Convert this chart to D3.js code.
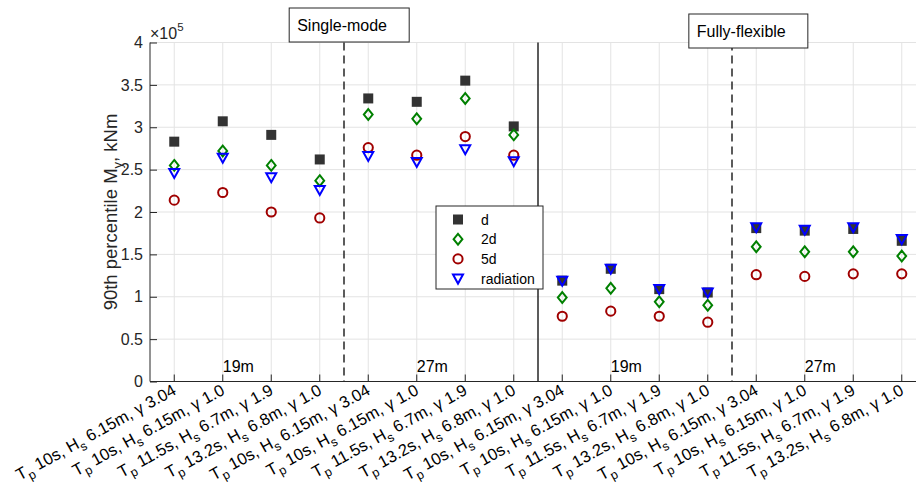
<!DOCTYPE html>
<html>
<head>
<meta charset="utf-8">
<script src="https://cdn.jsdelivr.net/npm/d3@7"></script>
<style>
body { margin: 0; background: #fff; }
text { font-family: "Liberation Sans", Arial, Helvetica, sans-serif; }
</style>
</head>
<body>
<div id="graph"></div>
<script>
//measurements
var width = 916;
var height = 482;
var margin = { top: 42.5, left: 150, bottom: 100.5 };

//sea states, repeated for each group of four
var waveTp = ["10s", "10s", "11.5s", "13.2s"];
var waveHs = ["6.15m", "6.15m", "6.7m", "6.8m"];
var waveGamma = ["3.04", "1.0", "1.9", "1.0"];
var caseIds = d3.range(1, 17);

//90th percentile My, kNm
var seriesNames = ["d", "2d", "5d", "radiation"];
var valD   = [283000, 307000, 291000, 262000, 334000, 330000, 355000, 301000, 119000, 133000, 109000, 105000, 181000, 178000, 180000, 166000];
var val2d  = [255000, 272000, 255000, 237000, 315000, 310000, 334000, 291000,  99000, 110000,  94000,  90000, 159000, 153000, 153000, 148000];
var val5d  = [214000, 223000, 200000, 193000, 276000, 267000, 289000, 267000,  77000,  83000,  77000,  70000, 126000, 124000, 127000, 127000];
var valRad = [246000, 264000, 241000, 226000, 266000, 259000, 274000, 260000, 119000, 133000, 109000, 105000, 182000, 179000, 182000, 168000];

//axis ticks
var yTicks = [0, 50000, 100000, 150000, 200000, 250000, 300000, 350000, 400000];

//groups
var depthLabels = ["19m", "27m", "19m", "27m"];
var depthAt = [2, 6, 10, 14];
var dashedAt = [4.5, 12.5];
var solidAt = [8.5];
var modeLabels = ["Single-mode", "Fully-flexible"];
var modeAt = [3.37, 11.61];

var axisColor = "#262626";
var gridColor = "#e3e3e3";
var colors = ["#333333", "#008000", "#a00000", "#0000ff"];

var svg = d3.select("#graph").append("svg")
    .attr("width", width)
    .attr("height", height);

var x = d3.scaleLinear().domain([0.5, 16.5]).range([margin.left, margin.left + 16 * 48.5]);
var y = d3.scaleLinear().domain([0, 400000]).range([height - margin.bottom, margin.top]);
var x0 = x.range()[0];
var y0 = y(0);

// grid
svg.append("g").selectAll("line.vg")
    .data(caseIds)
    .enter().append("line")
    .attr("x1", function (d) { return x(d); })
    .attr("x2", function (d) { return x(d); })
    .attr("y1", y(400000)).attr("y2", y0)
    .attr("stroke", gridColor).attr("stroke-width", 1);

svg.append("g").selectAll("line.hg")
    .data(yTicks.slice(1))
    .enter().append("line")
    .attr("x1", x0).attr("x2", width)
    .attr("y1", function (d) { return y(d); })
    .attr("y2", function (d) { return y(d); })
    .attr("stroke", gridColor).attr("stroke-width", 1);

// dividers
svg.append("g").selectAll("line")
    .data(dashedAt)
    .enter().append("line")
    .attr("x1", function (d) { return x(d); })
    .attr("x2", function (d) { return x(d); })
    .attr("y1", y(400000)).attr("y2", y0)
    .attr("stroke", axisColor).attr("stroke-width", 1.5)
    .attr("stroke-dasharray", "8,5");

svg.append("g").selectAll("line")
    .data(solidAt)
    .enter().append("line")
    .attr("x1", function (d) { return x(d); })
    .attr("x2", function (d) { return x(d); })
    .attr("y1", y(400000)).attr("y2", y0)
    .attr("stroke", axisColor).attr("stroke-width", 1.5);

// y axis
var yAxis = d3.axisLeft(y)
    .tickValues(yTicks)
    .tickSize(-7)
    .tickPadding(7)
    .tickFormat(function (d) { return d / 100000; });

var yg = svg.append("g")
    .attr("transform", "translate(" + x0 + ",0)")
    .call(yAxis);
yg.select(".domain").attr("stroke", axisColor).attr("d", "M0," + y(400000) + "V" + y0);
yg.selectAll(".tick line").attr("stroke", axisColor);
yg.selectAll(".tick text")
    .attr("fill", axisColor)
    .style("font-size", "16px")
    .attr("font-family", null);

// exponent
var expo = svg.append("text")
    .attr("x", x0)
    .attr("y", y(400000) - 4)
    .attr("fill", axisColor)
    .style("font-size", "16px");
expo.append("tspan").text("\u00d710");
expo.append("tspan").attr("dy", -8).style("font-size", "11.5px").text("5");

// y label
var yl = svg.append("text")
    .attr("transform", "translate(" + 117 + "," + ((y0 + y(400000)) / 2) + ") rotate(-90)")
    .attr("text-anchor", "middle")
    .attr("fill", axisColor)
    .style("font-size", "18.5px");
yl.append("tspan").text("90th percentile M");
yl.append("tspan").attr("dy", 5).style("font-size", "13px").text("y");
yl.append("tspan").attr("dy", -5).text(", kNm");

// x axis
svg.append("line")
    .attr("x1", x0).attr("x2", width)
    .attr("y1", y0).attr("y2", y0)
    .attr("stroke", axisColor);

svg.append("g").selectAll("line")
    .data(caseIds)
    .enter().append("line")
    .attr("x1", function (d) { return x(d); })
    .attr("x2", function (d) { return x(d); })
    .attr("y1", y0).attr("y2", y0 - 7)
    .attr("stroke", axisColor);

var xl = svg.append("g").selectAll("text")
    .data(caseIds)
    .enter().append("text")
    .attr("transform", function (d) { return "translate(" + (x(d) + 3) + "," + (y0 + 12) + ") rotate(-29)"; })
    .attr("text-anchor", "end")
    .attr("fill", "#000")
    .style("font-size", "16.5px");
xl.append("tspan").text("T");
xl.append("tspan").attr("dy", 5).style("font-size", "12.5px").text("p");
xl.append("tspan").attr("dy", -5).text(function (d) { return " " + waveTp[(d - 1) % 4] + ", H"; });
xl.append("tspan").attr("dy", 5).style("font-size", "12.5px").text("s");
xl.append("tspan").attr("dy", -5).text(function (d) { return " " + waveHs[(d - 1) % 4] + ", \u03b3 " + waveGamma[(d - 1) % 4]; });

// depth labels
svg.append("g").selectAll("text")
    .data(depthLabels)
    .enter().append("text")
    .attr("x", function (d, i) { return x(depthAt[i]); })
    .attr("y", y(11000))
    .attr("fill", "#000")
    .style("font-size", "16px")
    .text(function (d) { return d; });

// mode boxes
var modes = svg.append("g").selectAll("g")
    .data(modeLabels)
    .enter().append("g")
    .attr("transform", function (d, i) { return "translate(" + x(modeAt[i]) + "," + (i == 0 ? 8 : 14) + ")"; });
modes.append("rect")
    .attr("width", function (d, i) { return i == 0 ? 120 : 119; })
    .attr("height", 34)
    .attr("fill", "#fff")
    .attr("stroke", axisColor);
modes.append("text")
    .attr("x", 8).attr("y", 23)
    .attr("fill", "#000")
    .style("font-size", "16px")
    .text(function (d) { return d; });

// markers
var markerPaths = [
    "M-5,-5H5V5H-5Z",
    "M0,-5.4L4.4,0L0,5.4L-4.4,0Z",
    d3.arc()({ innerRadius: 0, outerRadius: 4.6, startAngle: 0, endAngle: 2 * Math.PI }),
    "M-5,-4H5L0,5Z"
];
var series = [valD, val2d, val5d, valRad];

series.forEach(function (vals, s) {
    svg.append("g").selectAll("path")
        .data(vals)
        .enter().append("path")
        .attr("transform", function (d, i) { return "translate(" + x(caseIds[i]) + "," + y(d) + ")"; })
        .attr("d", markerPaths[s])
        .attr("fill", s == 0 ? colors[0] : "none")
        .attr("stroke", s == 0 ? "none" : colors[s])
        .attr("stroke-width", 2);
});

// legend
var legend = svg.append("g")
    .attr("transform", "translate(436,206)");
legend.append("rect")
    .attr("width", 107).attr("height", 83)
    .attr("fill", "#fff")
    .attr("stroke", axisColor);
var rows = legend.selectAll("g")
    .data(seriesNames)
    .enter().append("g")
    .attr("transform", function (d, i) { return "translate(22," + (13.5 + i * 19.7) + ")"; });
rows.append("path")
    .attr("d", function (d, i) { return markerPaths[i]; })
    .attr("fill", function (d, i) { return i == 0 ? colors[0] : "none"; })
    .attr("stroke", function (d, i) { return i == 0 ? "none" : colors[i]; })
    .attr("stroke-width", 2);
rows.append("text")
    .attr("x", 23).attr("y", 5)
    .attr("fill", "#000")
    .style("font-size", "14px")
    .text(function (d) { return d; });
</script>
</body>
</html>
